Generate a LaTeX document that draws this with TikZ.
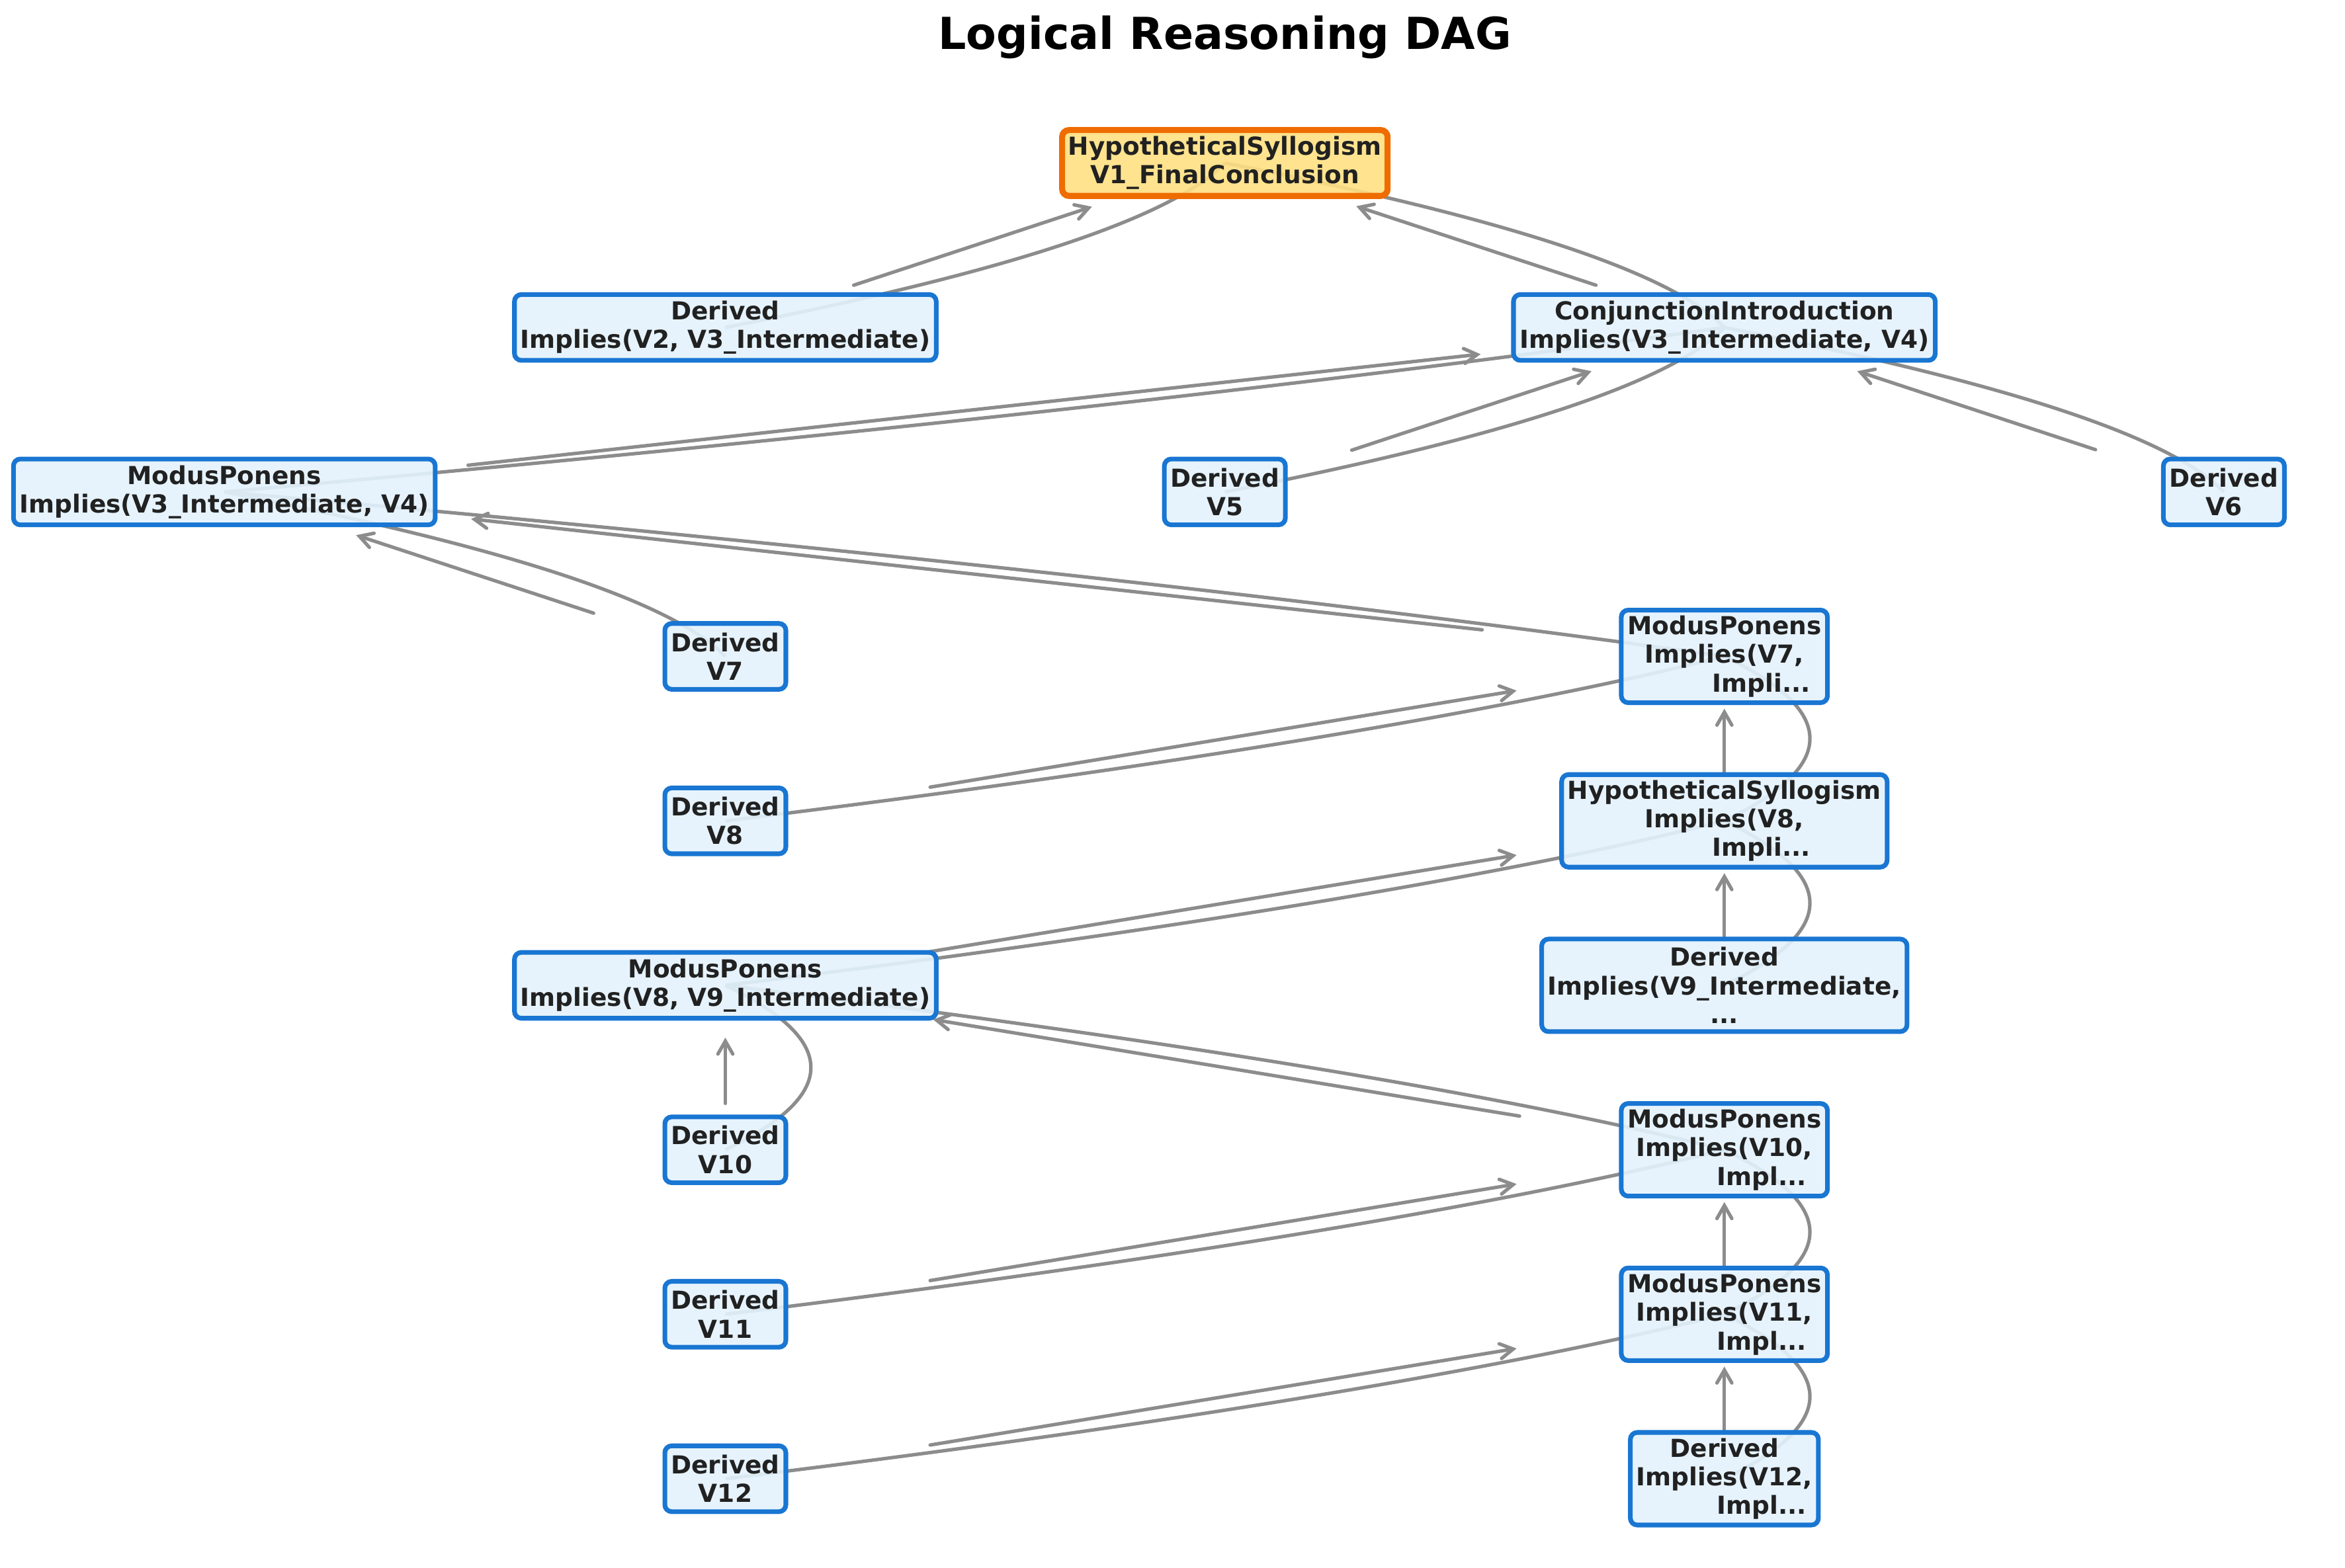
\documentclass[tikz,border=0pt]{standalone}
\usepackage{fontspec}
\setmainfont{DejaVu Sans}
\usetikzlibrary{arrows.meta,calc,backgrounds}
\definecolor{bborder}{HTML}{1976D2}
\definecolor{bfill}{HTML}{E3F2FD}
\definecolor{oborder}{HTML}{EF6C00}
\definecolor{ofill}{HTML}{FFE082}
\definecolor{txt}{HTML}{212121}
\definecolor{edgegray}{HTML}{8C8C8C}
\tikzset{
 box/.style={draw=bborder, fill=bfill, fill opacity=0.9, text opacity=1, line width=1.7pt,
   rounded corners=2.5pt, align=center, font=\fontsize{9}{10.4}\selectfont\bfseries,
   text=txt, inner xsep=2.2pt, inner ysep=0pt, minimum height=23.9pt},
 tall/.style={minimum height=33.6pt},
 goal/.style={draw=oborder, fill=ofill, line width=2.2pt},
 arrowline/.style={draw=edgegray, line width=1.25pt, line cap=round,
   -{Straight Barb[length=4.7pt,width=5.4pt,line cap=round]}},
 curveline/.style={draw=edgegray, line width=1.25pt},
}
\newcommand{\sarr}[4]{\draw[arrowline] ($(#1.center)!#3!(#2.center)$) -- ($(#1.center)!#4!(#2.center)$);}
\newcommand{\carc}[2]{\draw[curveline] let \p1=(#1.center), \p2=(#2.center),
  \p3=({(\x1+\x2)/2+1.04*(\y2-\y1)},{(\y1+\y2)/2}) in
  (\p1) .. controls ({(\x1+2*\x3)/3},{(\y1+2*\y3)/3}) and ({(\x2+2*\x3)/3},{(\y2+2*\y3)/3}) .. (\p2);}
\begin{document}
\begin{tikzpicture}[x=0.5426pt,y=-0.5426pt]
\useasboundingbox (0,0) rectangle (1568,1048.3);
\node[font=\fontsize{16}{19}\selectfont\bfseries, text=black] (title) at (819,25) {Logical Reasoning DAG};
\node[box,goal] (n1) at (819,109) {HypotheticalSyllogism\\V1\_FinalConclusion};
\node[box] (n2) at (485,219) {Derived\\Implies(V2, V3\_Intermediate)};
\node[box] (n3) at (1153,219) {ConjunctionIntroduction\\Implies(V3\_Intermediate, V4)};
\node[box] (n4) at (150,329) {ModusPonens\\Implies(V3\_Intermediate, V4)};
\node[box] (n5) at (819,329) {Derived\\V5};
\node[box] (n6) at (1487,329) {Derived\\V6};
\node[box] (n7) at (485,439) {Derived\\V7};
\node[box,tall] (n8) at (1153,439) {ModusPonens\\Implies(V7,\\\hspace*{3em}Impli...};
\node[box] (n9) at (485,549) {Derived\\V8};
\node[box,tall] (n10) at (1153,549) {HypotheticalSyllogism\\Implies(V8,\\\hspace*{3em}Impli...};
\node[box] (n11) at (485,659) {ModusPonens\\Implies(V8, V9\_Intermediate)};
\node[box,tall] (n12) at (1153,659) {Derived\\Implies(V9\_Intermediate,\\...};
\node[box] (n13) at (485,769) {Derived\\V10};
\node[box,tall] (n14) at (1153,769) {ModusPonens\\Implies(V10,\\\hspace*{3em}Impl...};
\node[box] (n15) at (485,879) {Derived\\V11};
\node[box,tall] (n16) at (1153,879) {ModusPonens\\Implies(V11,\\\hspace*{3em}Impl...};
\node[box] (n17) at (485,989) {Derived\\V12};
\node[box,tall] (n18) at (1153,989) {Derived\\Implies(V12,\\\hspace*{3em}Impl...};
\begin{scope}[on background layer]
\carc{n2}{n1} \sarr{n2}{n1}{0.257}{0.734}
\carc{n3}{n1} \sarr{n3}{n1}{0.257}{0.737}
\carc{n4}{n3} \sarr{n4}{n3}{0.1625}{0.8375}
\carc{n5}{n3} \sarr{n5}{n3}{0.254}{0.734}
\carc{n6}{n3} \sarr{n6}{n3}{0.257}{0.734}
\carc{n7}{n4} \sarr{n7}{n4}{0.263}{0.737}
\carc{n8}{n4} \sarr{n8}{n4}{0.1615}{0.8355}
\carc{n9}{n8} \sarr{n9}{n8}{0.205}{0.792}
\carc{n10}{n8} \sarr{n10}{n8}{0.282}{0.682}
\carc{n11}{n10} \sarr{n11}{n10}{0.205}{0.792}
\carc{n12}{n10} \sarr{n12}{n10}{0.282}{0.682}
\carc{n13}{n11} \sarr{n13}{n11}{0.282}{0.682}
\carc{n14}{n11} \sarr{n14}{n11}{0.205}{0.792}
\carc{n15}{n14} \sarr{n15}{n14}{0.205}{0.792}
\carc{n16}{n14} \sarr{n16}{n14}{0.282}{0.682}
\carc{n17}{n16} \sarr{n17}{n16}{0.205}{0.792}
\carc{n18}{n16} \sarr{n18}{n16}{0.282}{0.682}
\end{scope}
\end{tikzpicture}
\end{document}
